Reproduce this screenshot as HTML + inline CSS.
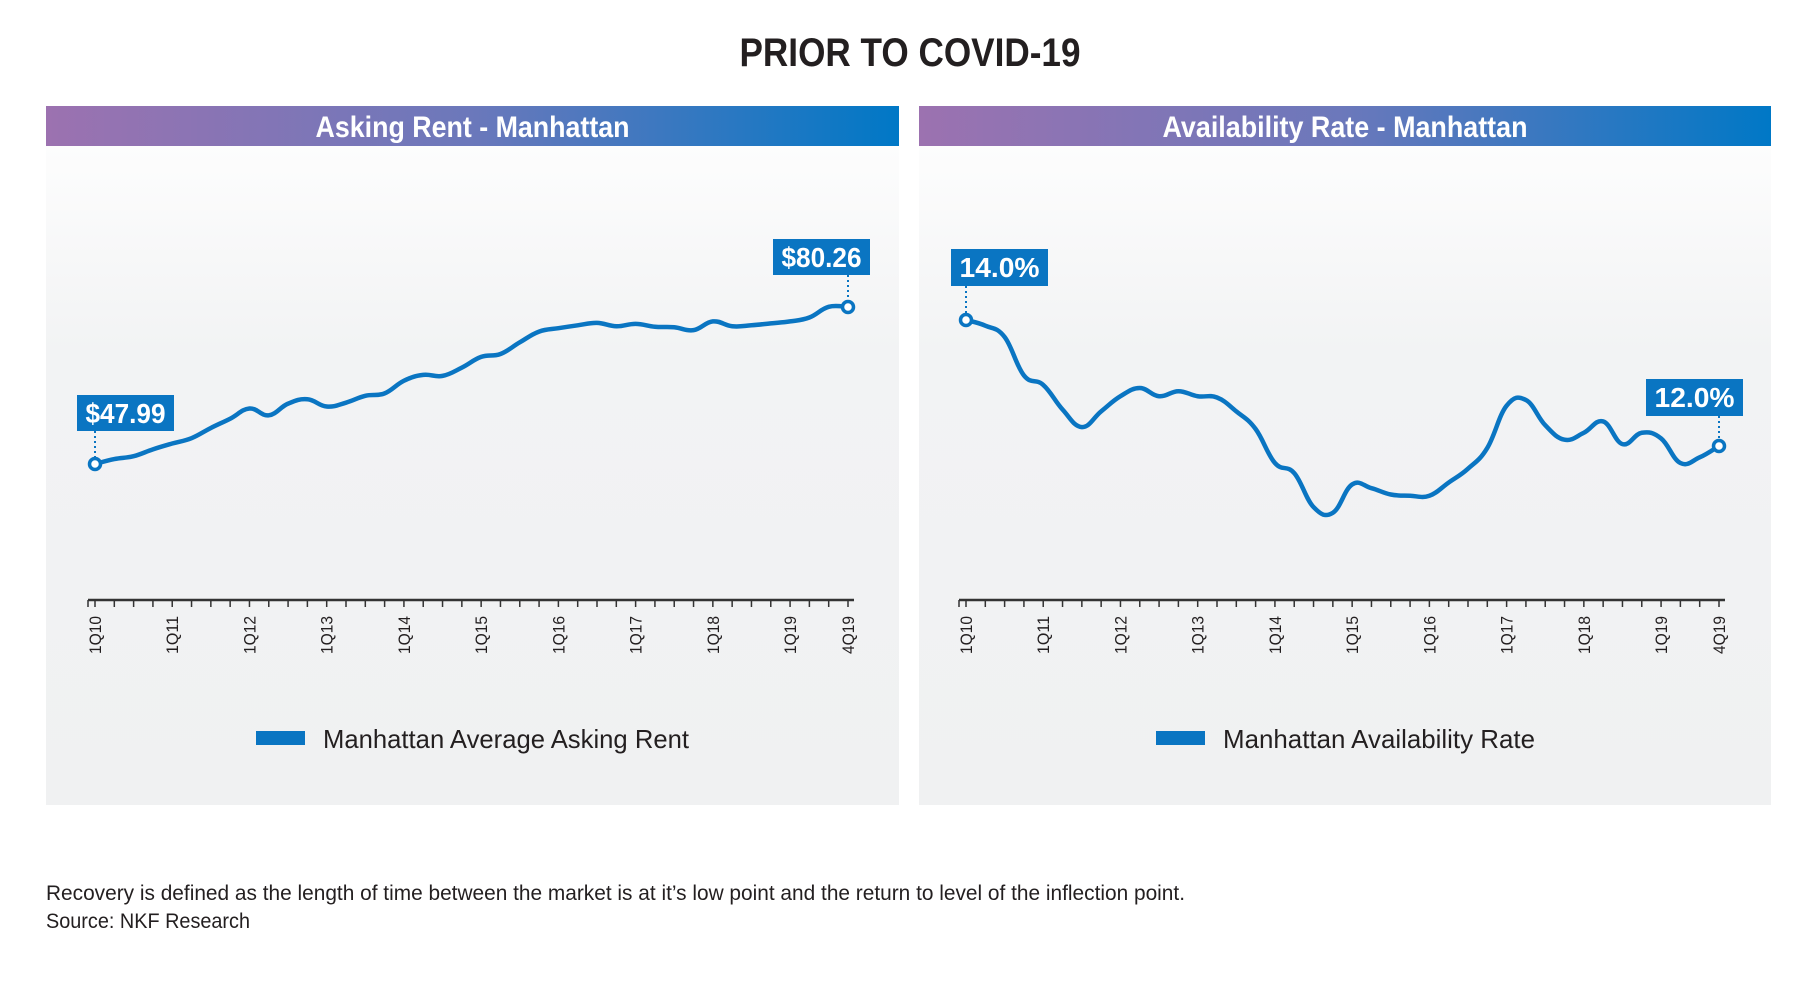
<!DOCTYPE html>
<html><head><meta charset="utf-8"><style>
html,body{margin:0;padding:0;background:#fff;}
svg{display:block;font-family:"Liberation Sans",sans-serif;}
</style></head><body>
<svg id="chart" width="1808" height="981" viewBox="0 0 1808 981">
<defs>
<linearGradient id="hdr" x1="0" x2="1" y1="0" y2="0"><stop offset="0" stop-color="#9c72b0"/><stop offset="0.5" stop-color="#6b78bb"/><stop offset="1" stop-color="#0078c6"/></linearGradient>
<linearGradient id="bg" x1="0" x2="0" y1="0" y2="1"><stop offset="0" stop-color="#ffffff"/><stop offset="0.35" stop-color="#f2f3f4"/><stop offset="1" stop-color="#f0f1f2"/></linearGradient>
</defs>
<text x="910" y="66" text-anchor="middle" font-size="40" font-weight="bold" fill="#231f20" textLength="341" lengthAdjust="spacingAndGlyphs">PRIOR TO COVID-19</text>
<g id="left"></g>
<g id="right"></g>
<text x="46" y="900" font-size="21" fill="#231f20" textLength="1139" lengthAdjust="spacingAndGlyphs">Recovery is defined as the length of time between the market is at it’s low point and the return to level of the inflection point.</text>
<text x="46" y="928" font-size="21" fill="#231f20" textLength="204" lengthAdjust="spacingAndGlyphs">Source: NKF Research</text>
</svg>
<script>
const tickLabels = ["1Q10","1Q11","1Q12","1Q13","1Q14","1Q15","1Q16","1Q17","1Q18","1Q19","4Q19"];
const tickIndex = [0,4,8,12,16,20,24,28,32,36,39];
const rentValues = [47.99,49.0,49.6,51.0,52.2,53.3,55.4,57.3,59.4,58.0,60.4,61.3,59.8,60.6,62.0,62.5,65.1,66.3,66.1,67.8,70.0,70.6,73.0,75.2,75.9,76.5,77.0,76.3,76.8,76.2,76.1,75.5,77.3,76.3,76.5,76.9,77.3,78.1,80.3,80.26];
const availValues = [14.0,13.91,13.73,13.12,12.97,12.58,12.30,12.55,12.79,12.92,12.79,12.87,12.79,12.77,12.55,12.27,11.73,11.57,11.03,10.94,11.39,11.33,11.23,11.21,11.21,11.42,11.64,11.97,12.64,12.73,12.33,12.10,12.21,12.39,12.03,12.21,12.12,11.73,11.82,12.0];
const rentCallouts = ["$47.99","$80.26"];
const availCallouts = ["14.0%","12.0%"];

const NS="http://www.w3.org/2000/svg";
function mk(parent,tag,attrs,text){const e=document.createElementNS(NS,tag);for(const k in attrs)e.setAttribute(k,attrs[k]);if(text!==undefined)e.textContent=text;parent.appendChild(e);return e;}
function smooth(pts){let d="M"+pts[0][0]+","+pts[0][1];for(let i=0;i<pts.length-1;i++){const p0=pts[Math.max(0,i-1)],p1=pts[i],p2=pts[i+1],p3=pts[Math.min(pts.length-1,i+2)];const t=0.2;d+=" C"+(p1[0]+(p2[0]-p0[0])*t)+","+(p1[1]+(p2[1]-p0[1])*t)+" "+(p2[0]-(p3[0]-p1[0])*t)+","+(p2[1]-(p3[1]-p1[1])*t)+" "+p2[0]+","+p2[1];}return d;}

function panel(g,cfg){
  const r=mk(g,"rect",{x:cfg.px,y:106,width:cfg.pw,height:699,fill:"url(#bg)"});
  
  
  const h=mk(g,"rect",{x:cfg.px,y:106,width:cfg.pw,height:40,fill:"url(#hdr)"});
  
  
  const ht=mk(g,"text",{x:cfg.px+cfg.pw/2,y:137,"text-anchor":"middle","font-size":30,"font-weight":"bold",fill:"#fff",textLength:cfg.titleW,lengthAdjust:"spacingAndGlyphs"},cfg.title);
  
  
  const n=cfg.values.length;
  const xs=i=>cfg.x0+(cfg.x1-cfg.x0)*i/(n-1);
  const ys=v=>cfg.yA+(v-cfg.vA)*(cfg.yB-cfg.yA)/(cfg.vB-cfg.vA);
  const ax=mk(g,"line",{x1:cfg.x0-7,x2:cfg.x1+6,y1:600,y2:600,stroke:"#333","stroke-width":2.5});
  
  
  for(let i=0;i<n;i++){
    const t=mk(g,"line",{x1:xs(i),x2:xs(i),y1:600,y2:607,stroke:"#333","stroke-width":1.5});
    
    
  }
  const tk=mk(g,"line",{x1:cfg.x0-7,x2:cfg.x0-7,y1:600,y2:607,stroke:"#333","stroke-width":1.5});
  
  
  tickLabels.forEach((lab,j)=>{
    const x=xs(tickIndex[j])+6;
    const t=mk(g,"text",{x:0,y:0,transform:`translate(${x},616) rotate(-90)`,"text-anchor":"end","font-size":17,fill:"#231f20",textLength:38,lengthAdjust:"spacingAndGlyphs"},lab);
    
    
  });
  const pts=cfg.values.map((v,i)=>[xs(i),ys(v)]);
  const p=mk(g,"path",{d:smooth(pts),fill:"none",stroke:"#0a75c2","stroke-width":4.5,"stroke-linejoin":"round","stroke-linecap":"round"});
  
  
  [[0,cfg.c0],[n-1,cfg.c1]].forEach(([i,c],k)=>{
    const x=xs(i),y=ys(cfg.values[i]);
    const dl=mk(g,"line",{x1:x,x2:x,y1:c.by+c.h,y2:y-6,stroke:"#0a75c2","stroke-width":2,"stroke-dasharray":"2,3"});
    
    
    const bx=mk(g,"rect",{x:c.bx,y:c.by,width:97,height:c.h,fill:"#0a75c2"});
    
    
    const bt=mk(g,"text",{x:c.bx+48.5,y:c.by+28,"text-anchor":"middle","font-size":28,"font-weight":"bold",fill:"#fff",textLength:80,lengthAdjust:"spacingAndGlyphs"},cfg.labels[k]);
    
    
    const m=mk(g,"circle",{cx:x,cy:y,r:5.5,fill:"#fff",stroke:"#0a75c2","stroke-width":3.5});
    
    
  });
  const lr=mk(g,"rect",{x:cfg.lx,y:731,width:49,height:14,fill:"#0a75c2"});
  
  
  const lt=mk(g,"text",{x:cfg.lx+67,y:748,"font-size":26,fill:"#231f20",textLength:cfg.legW,lengthAdjust:"spacingAndGlyphs"},cfg.legend);
  
  
}
panel(document.getElementById('left'),{px:46,pw:853,title:"Asking Rent - Manhattan",titleW:314,values:rentValues,x0:95,x1:848,
  vA:rentValues[0],yA:464,vB:rentValues[rentValues.length-1],yB:307,labels:rentCallouts,
  c0:{bx:77,by:395,h:36},c1:{bx:773,by:239,h:36},lx:256,legend:"Manhattan Average Asking Rent",legW:366});
panel(document.getElementById('right'),{px:919,pw:852,title:"Availability Rate - Manhattan",titleW:365,values:availValues,x0:966,x1:1719,
  vA:availValues[0],yA:320,vB:availValues[availValues.length-1],yB:446,labels:availCallouts,
  c0:{bx:951,by:249,h:37},c1:{bx:1646,by:379,h:37},lx:1156,legend:"Manhattan Availability Rate",legW:312});
</script>
</body></html>
